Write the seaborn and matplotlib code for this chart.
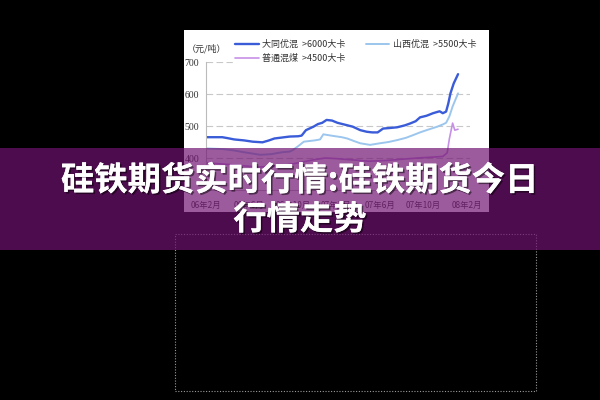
import numpy as np
import pandas as pd
import matplotlib
matplotlib.use("Agg")
import matplotlib.pyplot as plt
import matplotlib.patheffects as pe
from matplotlib.patches import Rectangle
import seaborn as sns

# months counted from 06年2月
datong_month = [0, 1.5, 2.0, 2.6, 3.5, 4.3, 5.2, 5.8, 6.3, 7.0, 7.7, 8.5, 8.8, 9.2, 9.9, 10.3,
                10.7, 11.1, 11.6, 12.1, 12.8, 13.5, 14.2, 14.8, 15.3, 15.8, 16.3, 17.0, 17.6,
                18.3, 18.8, 19.3, 19.7, 20.3, 20.9, 21.5, 21.8, 22.1, 22.3, 22.5, 22.8, 23.2]
datong_price = [465, 465, 462, 458, 455, 451, 449, 455, 461, 464, 467, 468, 470, 487, 498, 506,
                510, 519, 517, 510, 504, 498, 487, 482, 480, 480, 492, 494, 496,
                502, 508, 515, 527, 532, 540, 546, 540, 545, 570, 602, 633, 662]

shanxi_month = [0, 1.5, 2.5, 3.5, 5.0, 6.0, 7.0, 7.7, 8.0, 8.6, 9.0, 10.0, 10.5, 10.8, 11.7,
                12.5, 13.0, 13.7, 14.2, 15.1, 16.0, 16.8, 17.6, 18.4, 19.1, 19.7, 20.3, 21.3,
                21.8, 22.1, 22.4, 22.7, 23.2]
shanxi_price = [430, 428, 424, 418, 410, 412, 418, 420, 425, 440, 451, 455, 458, 474, 469,
                465, 461, 452, 446, 441, 446, 450, 456, 463, 472, 480, 487, 498,
                505, 510, 530, 561, 602]

putong_month = [0, 2, 4, 5, 7, 8.5, 10, 11, 12, 13.5, 15, 16.5, 18, 19.5, 21, 21.8, 22.2,
                22.4, 22.7, 22.9, 23.2]
putong_price = [385, 380, 374, 372, 376, 385, 395, 400, 398, 394, 390, 392, 396, 400, 403,
                405, 416, 460, 509, 487, 490]

series_names = ["大同优混  >6000大卡", "山西优混  >5500大卡", "普通混煤  >4500大卡"]
series_colors = ["#3a5cd8", "#9cc6ee", "#c690e6"]
series_widths = [1.7, 1.4, 1.2]

tick_months = [0, 4, 8, 12, 16, 20, 24]
tick_labels = ["06年2月", "06年6月", "06年10月", "07年2月", "07年6月", "07年10月", "08年2月"]
y_ticks = [400, 500, 600, 700]

title_1 = "硅铁期货实时行情:硅铁期货今日"
title_2 = "行情走势"

df = pd.concat([
    pd.DataFrame({"month": datong_month, "price": datong_price, "series": series_names[0]}),
    pd.DataFrame({"month": shanxi_month, "price": shanxi_price, "series": series_names[1]}),
    pd.DataFrame({"month": putong_month, "price": putong_price, "series": series_names[2]}),
])

sns.set_style("white")
plt.rcParams['font.family'] = ['Noto Sans CJK SC', 'DejaVu Sans']

W, H = 600, 400
fig = plt.figure(figsize=(6, 4), dpi=100, facecolor="black")

# white chart panel
fig.add_artist(Rectangle((184 / W, 1 - 212 / H), (489 - 184) / W, (212 - 30) / H,
                         transform=fig.transFigure, facecolor="white", edgecolor="none", zorder=0))

ax = fig.add_axes([206 / W, 1 - 190 / H, (470 - 206) / W, (190 - 62) / H], zorder=1)
ax.set_facecolor("white")

for name, col, lw in zip(series_names, series_colors, series_widths):
    sns.lineplot(data=df[df["series"] == name], x="month", y="price", color=col,
                 linewidth=lw, ax=ax, label=name, legend=False)

ax.set_xlim(0, 24.3)
ax.set_ylim(300, 700)
ax.set_yticks(y_ticks)
ax.set_yticklabels([str(v) for v in y_ticks], family=["Liberation Serif"], fontsize=7, color="#333")
ax.set_xticks(tick_months)
ax.set_xticklabels(tick_labels, fontsize=6, color="#444")
ax.tick_params(axis="both", length=0)
ax.tick_params(axis="y", pad=5)
ax.tick_params(axis="x", pad=8)
ax.set_xlabel("")
ax.set_ylabel("")
ax.grid(axis="y", color="#c8c8c8", linestyle=(0, (6, 3)), linewidth=0.8)
for s in ["top", "right"]:
    ax.spines[s].set_visible(False)
ax.spines["left"].set_color("#bbbbbb")
ax.spines["left"].set_linewidth(0.8)
ax.spines["bottom"].set_color("#bbbbbb")
ax.spines["bottom"].set_linewidth(0.8)

fig.text(187 / W, 1 - 49 / H, "（元/吨）", fontsize=6.5, color="#333", va="center", ha="left")

handles, labels = ax.get_legend_handles_labels()
order = [0, 2, 1]
leg = fig.legend([handles[i] for i in order], [labels[i] for i in order],
                 loc="upper left", bbox_to_anchor=(228 / W, 1 - 33 / H), ncol=2,
                 fontsize=6.5, frameon=True, facecolor="white", edgecolor="white",
                 framealpha=1, fancybox=False, handlelength=2.6, handletextpad=0.4,
                 columnspacing=2.2, labelspacing=0.5, borderpad=0.3)
leg.set_zorder(5)
for t in leg.get_texts():
    t.set_color("#333")

# dotted frame below
fig.add_artist(Rectangle((175 / W, 1 - 391 / H), (536 - 175) / W, (391 - 234) / H,
                         transform=fig.transFigure, facecolor="none", edgecolor="#9a9a9a",
                         linestyle=(0, (1, 1.5)), linewidth=0.8, zorder=6))

# purple banner
fig.add_artist(Rectangle((0, 1 - 250 / H), 1, (250 - 148) / H, transform=fig.transFigure,
                         facecolor=(112 / 255, 18 / 255, 112 / 255), alpha=0.69,
                         edgecolor="none", zorder=10))

shadow = [pe.withSimplePatchShadow(offset=(1.2, -1.2), shadow_rgbFace="black", alpha=0.5), pe.Normal()]
fig.text(0.5, 1 - 181 / H, title_1, fontsize=24, fontweight="bold", color="white",
         ha="center", va="center", zorder=11, path_effects=shadow)
fig.text(0.5, 1 - 220 / H, title_2, fontsize=24, fontweight="bold", color="white",
         ha="center", va="center", zorder=11, path_effects=shadow)

fig.savefig("out.png", dpi=100, facecolor="black")
